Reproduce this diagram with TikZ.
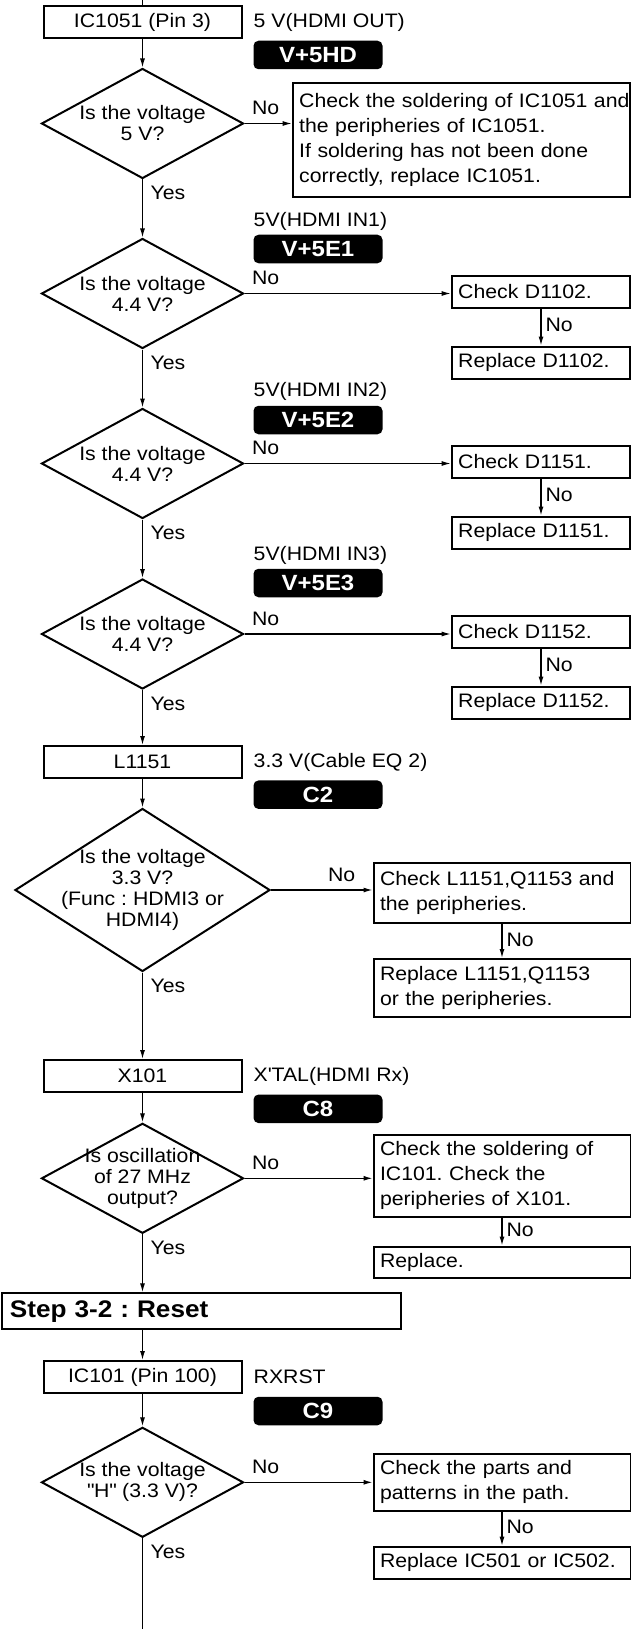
\documentclass[tikz,border=0pt]{standalone}
\usepackage{fontspec}
\setmainfont{Liberation Sans}[FakeStretch=1.09]
\usetikzlibrary{shapes.geometric,arrows.meta}
\frenchspacing

\begin{document}
\begin{tikzpicture}[
        x=1pt, y=-1pt,
        font=\fontsize{19.5}{21}\selectfont,
        part/.style={rectangle, draw, line width=2pt, minimum width=198pt, minimum height=32pt, inner sep=0pt},
        decision/.style={diamond, draw, line width=2pt, inner sep=-30pt, minimum width=202pt, minimum height=110pt, align=center},
        remedy/.style={rectangle, draw, line width=2pt, anchor=west, inner xsep=6.5pt, inner ysep=0pt, align=left, font=\fontsize{19.5}{25}\selectfont},
        stage/.style={rectangle, draw, line width=2pt, anchor=west, inner xsep=7.9pt, inner ysep=0pt, align=left, font=\bfseries\fontsize{24}{24}\selectfont},
        signal/.style={anchor=west, inner sep=0pt},
        badge/.style={rectangle, rounded corners=5pt, fill=black, text=white, font=\bfseries\fontsize{22}{22}\selectfont, minimum width=129pt, minimum height=28.5pt, inner sep=0pt},
        flow/.style={line width=1.2pt, -{Latex[length=9pt, width=5pt]}},
        no/.style={pos=0, anchor=south west, xshift=5pt, yshift=6pt, inner sep=2pt},
        nodown/.style={pos=0.45, right, xshift=2pt, inner sep=2pt},
        yes/.style={pos=0, anchor=north west, xshift=5.5pt, yshift=-4.3pt, inner sep=2pt},
    ]
        \useasboundingbox (0, 0) rectangle (631, 1629);

        % main column
        \coordinate (top) at (142.5, 0);
        \node[part] (ic1051) at (142.5, 22) {IC1051 (Pin 3)};
        \node[signal] (sig1) at (253.5, 22) {5 V(HDMI OUT)};
        \node[badge] (tag1) at (318, 55) {V+5HD};
        \node[decision] (q1) at (142.5, 123.5) {Is the voltage\\5 V?};
        \node[remedy, text width=324.6pt, minimum height=114pt] (fix1) at (291.7, 140.3)
            {\mbox{Check the soldering of IC1051 and}\\the peripheries of IC1051.\\If soldering has not been done\\correctly, replace IC1051.};

        \node[signal] (sig2) at (253.5, 221.7) {5V(HDMI IN1)};
        \node[badge] (tag2) at (318, 249) {V+5E1};
        \node[decision] (q2) at (142.5, 293.5) {Is the voltage\\4.4 V?};
        \node[remedy, text width=165.6pt, minimum height=32pt] (chk2) at (450.7, 291.5) {Check D1102.};
        \node[remedy, text width=165.6pt, minimum height=32pt] (rep2) at (450.7, 362.5) {Replace D1102.};

        \node[signal] (sig3) at (253.5, 391.7) {5V(HDMI IN2)};
        \node[badge] (tag3) at (318, 420) {V+5E2};
        \node[decision] (q3) at (142.5, 463.5) {Is the voltage\\4.4 V?};
        \node[remedy, text width=165.6pt, minimum height=32pt] (chk3) at (450.7, 461.5) {Check D1151.};
        \node[remedy, text width=165.6pt, minimum height=32pt] (rep3) at (450.7, 532.5) {Replace D1151.};

        \node[signal] (sig4) at (253.5, 555.7) {5V(HDMI IN3)};
        \node[badge] (tag4) at (318, 583) {V+5E3};
        \node[decision] (q4) at (142.5, 634) {Is the voltage\\4.4 V?};
        \node[remedy, text width=165.6pt, minimum height=32pt] (chk4) at (450.7, 631.5) {Check D1152.};
        \node[remedy, text width=165.6pt, minimum height=32pt] (rep4) at (450.7, 702.5) {Replace D1152.};

        \node[part] (l1151) at (142.5, 762) {L1151};
        \node[signal] (sig5) at (253.5, 762) {3.3 V(Cable EQ 2)};
        \node[badge] (tag5) at (318, 794.7) {C2};
        \node[decision, minimum width=255pt, minimum height=163pt] (q5) at (142.5, 890)
            {Is the voltage\\3.3 V?\\(Func : HDMI3 or\\HDMI4)};
        \node[remedy, text width=244pt, minimum height=60pt] (chk5) at (372.5, 893.3)
            {Check L1151,Q1153 and\\the peripheries.};
        \node[remedy, text width=244pt, minimum height=58pt] (rep5) at (372.5, 988)
            {Replace L1151,Q1153\\or the peripheries.};

        \node[part] (x101) at (142.5, 1076) {X101};
        \node[signal] (sig6) at (253.5, 1076) {X\textquotesingle TAL(HDMI Rx)};
        \node[badge] (tag6) at (318, 1108.8) {C8};
        \node[decision] (q6) at (142.5, 1178.3) {Is oscillation\\of 27 MHz\\output?};
        \node[remedy, text width=244pt, minimum height=81.7pt] (chk6) at (372.5, 1175.8)
            {Check the soldering of\\IC101. Check the\\peripheries of X101.};
        \node[remedy, text width=244pt, minimum height=31pt] (rep6) at (372.5, 1262) {Replace.};

        \node[stage, text width=383.6pt, minimum height=36pt] (reset) at (1, 1311.3) {Step 3-2 : Reset};

        \node[part] (ic101) at (142.5, 1377) {IC101 (Pin 100)};
        \node[signal] (sig7) at (253.5, 1376.7) {RXRST};
        \node[badge] (tag7) at (318, 1411) {C9};
        \node[decision] (q7) at (142.5, 1482.3) {Is the voltage\\\textquotedbl H\textquotedbl{} (3.3 V)?};
        \node[remedy, text width=244pt, minimum height=56.7pt] (chk7) at (372.5, 1482.3)
            {Check the parts and\\patterns in the path.};
        \node[remedy, text width=244pt, minimum height=32.3pt] (rep7) at (372.5, 1562.8) {Replace IC501 or IC502.};
        \coordinate (bottom) at (142.5, 1629);

        % connectors
        \draw[line width=1.2pt] (top) -- (ic1051);
        \draw[flow] (ic1051) -- (q1);
        \draw[flow] (q1) -- node[no] {No} (q1 -| fix1.west);
        \draw[flow] (q1) -- node[yes] {Yes} (q2);

        \draw[flow] (q2) -- node[no] {No} (q2 -| chk2.west);
        \draw[flow] (chk2) -- node[nodown] {No} (rep2);
        \draw[flow] (q2) -- node[yes] {Yes} (q3);

        \draw[flow] (q3) -- node[no] {No} (q3 -| chk3.west);
        \draw[flow] (chk3) -- node[nodown] {No} (rep3);
        \draw[flow] (q3) -- node[yes] {Yes} (q4);

        \draw[flow] (q4) -- node[no] {No} (q4 -| chk4.west);
        \draw[flow] (chk4) -- node[nodown] {No} (rep4);
        \draw[flow] (q4) -- node[yes] {Yes} (l1151);

        \draw[flow] (l1151) -- (q5);
        \draw[flow] (q5) -- node[pos=1, anchor=south east, xshift=-14.7pt, yshift=6pt, inner sep=2pt] {No} (q5 -| chk5.west);
        \draw[flow] (chk5) -- node[nodown] {No} (rep5);
        \draw[flow] (q5) -- node[yes] {Yes} (x101);

        \draw[flow] (x101) -- (q6);
        \draw[flow] (q6) -- node[no] {No} (q6 -| chk6.west);
        \draw[flow] (chk6) -- node[nodown] {No} (rep6);
        \draw[flow] (q6) -- node[yes] {Yes} (q6 |- reset.north);

        \draw[flow] (reset.south -| ic101) -- (ic101);
        \draw[flow] (ic101) -- (q7);
        \draw[flow] (q7) -- node[no] {No} (q7 -| chk7.west);
        \draw[flow] (chk7) -- node[nodown] {No} (rep7);
        \draw[line width=1.2pt] (q7) -- node[yes] {Yes} (bottom);
    \end{tikzpicture}
\end{document}
